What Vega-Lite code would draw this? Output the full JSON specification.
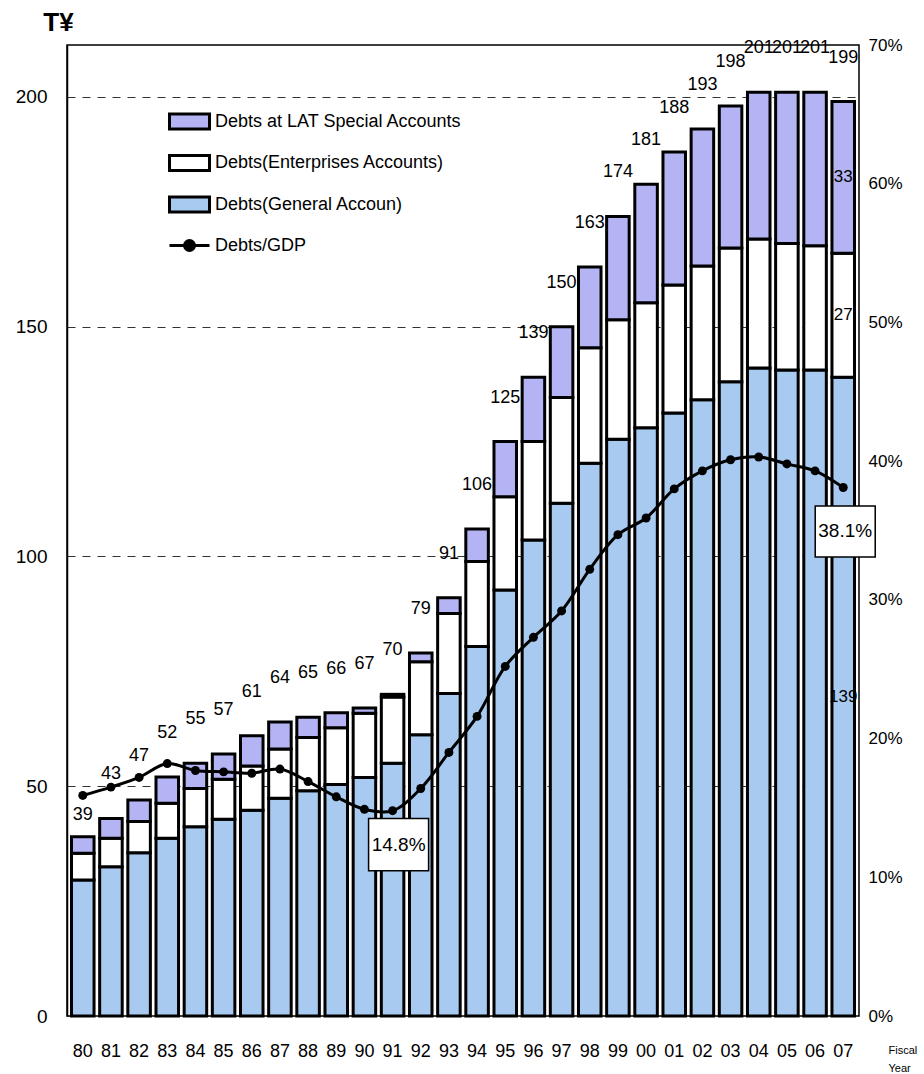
{
  "$schema": "https://vega.github.io/schema/vega-lite/v6.json",
  "width": 792,
  "height": 971,
  "autosize": {"type": "none"},
  "padding": {"left": 67, "top": 45, "right": 65, "bottom": 58},
  "config": {
    "font": "Liberation Sans, Arial, sans-serif",
    "view": {"stroke": "black", "strokeWidth": 1.5},
    "axis": {"labelColor": "black", "titleColor": "black", "domainColor": "black", "labelFont": "Liberation Sans, Arial, sans-serif", "titleFont": "Liberation Sans, Arial, sans-serif"},
    "legend": {"labelFont": "Liberation Sans, Arial, sans-serif", "labelColor": "black", "labelLimit": 0},
    "text": {"font": "Liberation Sans, Arial, sans-serif", "color": "black"}
  },
  "datasets": {
    "debt": [
      {"year": "80", "Debts(General Accoun)": 29.6, "Debts(Enterprises Accounts)": 5.8, "Debts at LAT Special Accounts": 3.6, "total": 39, "gdp": 0.159},
      {"year": "81", "Debts(General Accoun)": 32.5, "Debts(Enterprises Accounts)": 6.2, "Debts at LAT Special Accounts": 4.3, "total": 43, "gdp": 0.165},
      {"year": "82", "Debts(General Accoun)": 35.5, "Debts(Enterprises Accounts)": 6.8, "Debts at LAT Special Accounts": 4.7, "total": 47, "gdp": 0.172},
      {"year": "83", "Debts(General Accoun)": 38.7, "Debts(Enterprises Accounts)": 7.6, "Debts at LAT Special Accounts": 5.7, "total": 52, "gdp": 0.182},
      {"year": "84", "Debts(General Accoun)": 41.2, "Debts(Enterprises Accounts)": 8.3, "Debts at LAT Special Accounts": 5.5, "total": 55, "gdp": 0.177},
      {"year": "85", "Debts(General Accoun)": 42.8, "Debts(Enterprises Accounts)": 8.7, "Debts at LAT Special Accounts": 5.5, "total": 57, "gdp": 0.176},
      {"year": "86", "Debts(General Accoun)": 44.8, "Debts(Enterprises Accounts)": 9.6, "Debts at LAT Special Accounts": 6.6, "total": 61, "gdp": 0.175},
      {"year": "87", "Debts(General Accoun)": 47.4, "Debts(Enterprises Accounts)": 10.7, "Debts at LAT Special Accounts": 5.9, "total": 64, "gdp": 0.178},
      {"year": "88", "Debts(General Accoun)": 49.0, "Debts(Enterprises Accounts)": 11.6, "Debts at LAT Special Accounts": 4.4, "total": 65, "gdp": 0.169},
      {"year": "89", "Debts(General Accoun)": 50.4, "Debts(Enterprises Accounts)": 12.3, "Debts at LAT Special Accounts": 3.3, "total": 66, "gdp": 0.158},
      {"year": "90", "Debts(General Accoun)": 51.9, "Debts(Enterprises Accounts)": 14.0, "Debts at LAT Special Accounts": 1.1, "total": 67, "gdp": 0.149},
      {"year": "91", "Debts(General Accoun)": 55.0, "Debts(Enterprises Accounts)": 14.4, "Debts at LAT Special Accounts": 0.6, "total": 70, "gdp": 0.148},
      {"year": "92", "Debts(General Accoun)": 61.2, "Debts(Enterprises Accounts)": 15.9, "Debts at LAT Special Accounts": 1.9, "total": 79, "gdp": 0.164},
      {"year": "93", "Debts(General Accoun)": 70.2, "Debts(Enterprises Accounts)": 17.4, "Debts at LAT Special Accounts": 3.4, "total": 91, "gdp": 0.190},
      {"year": "94", "Debts(General Accoun)": 80.4, "Debts(Enterprises Accounts)": 18.5, "Debts at LAT Special Accounts": 7.1, "total": 106, "gdp": 0.216},
      {"year": "95", "Debts(General Accoun)": 92.7, "Debts(Enterprises Accounts)": 20.3, "Debts at LAT Special Accounts": 12.0, "total": 125, "gdp": 0.252},
      {"year": "96", "Debts(General Accoun)": 103.6, "Debts(Enterprises Accounts)": 21.4, "Debts at LAT Special Accounts": 14.0, "total": 139, "gdp": 0.273},
      {"year": "97", "Debts(General Accoun)": 111.6, "Debts(Enterprises Accounts)": 23.0, "Debts at LAT Special Accounts": 15.4, "total": 150, "gdp": 0.292},
      {"year": "98", "Debts(General Accoun)": 120.3, "Debts(Enterprises Accounts)": 25.1, "Debts at LAT Special Accounts": 17.6, "total": 163, "gdp": 0.322},
      {"year": "99", "Debts(General Accoun)": 125.5, "Debts(Enterprises Accounts)": 26.0, "Debts at LAT Special Accounts": 22.5, "total": 174, "gdp": 0.347},
      {"year": "00", "Debts(General Accoun)": 128.0, "Debts(Enterprises Accounts)": 27.2, "Debts at LAT Special Accounts": 25.8, "total": 181, "gdp": 0.359},
      {"year": "01", "Debts(General Accoun)": 131.2, "Debts(Enterprises Accounts)": 27.9, "Debts at LAT Special Accounts": 28.9, "total": 188, "gdp": 0.380},
      {"year": "02", "Debts(General Accoun)": 134.1, "Debts(Enterprises Accounts)": 29.1, "Debts at LAT Special Accounts": 29.8, "total": 193, "gdp": 0.393},
      {"year": "03", "Debts(General Accoun)": 138.0, "Debts(Enterprises Accounts)": 29.1, "Debts at LAT Special Accounts": 30.9, "total": 198, "gdp": 0.401},
      {"year": "04", "Debts(General Accoun)": 141.0, "Debts(Enterprises Accounts)": 28.1, "Debts at LAT Special Accounts": 31.9, "total": 201, "gdp": 0.403},
      {"year": "05", "Debts(General Accoun)": 140.6, "Debts(Enterprises Accounts)": 27.5, "Debts at LAT Special Accounts": 32.9, "total": 201, "gdp": 0.398},
      {"year": "06", "Debts(General Accoun)": 140.6, "Debts(Enterprises Accounts)": 27.0, "Debts at LAT Special Accounts": 33.4, "total": 201, "gdp": 0.393},
      {"year": "07", "Debts(General Accoun)": 139.0, "Debts(Enterprises Accounts)": 27.0, "Debts at LAT Special Accounts": 33.0, "total": 199, "gdp": 0.381}
    ]
  },
  "data": {"name": "debt"},
  "encoding": {
    "x": {
      "field": "year",
      "type": "ordinal",
      "sort": ["80","81","82","83","84","85","86","87","88","89","90","91","92","93","94","95","96","97","98","99","00","01","02","03","04","05","06","07"],
      "scale": {"paddingInner": 0.2, "paddingOuter": 0.16},
      "axis": {
        "labelAngle": 0, "labelFontSize": 18, "labelPadding": 26, "ticks": false, "domain": false,
        "title": ["Fiscal", "Year"], "titleFontSize": 11, "titleFontWeight": "normal",
        "titleX": 821, "titleY": 28, "titleAlign": "left", "titleBaseline": "top", "titleLineHeight": 18
      }
    }
  },
  "layer": [
    {
      "layer": [
        {
          "transform": [{"fold": ["Debts(General Accoun)", "Debts(Enterprises Accounts)", "Debts at LAT Special Accounts"], "as": ["series", "value"]}],
          "mark": {"type": "bar", "stroke": "black", "strokeWidth": 3},
          "encoding": {
            "y": {
              "field": "value", "type": "quantitative", "stack": "zero",
              "scale": {"domain": [0, 211.3], "nice": false, "zero": true},
              "axis": {
                "values": [0, 50, 100, 150, 200], "labelFontSize": 19, "labelPadding": 20, "ticks": false,
                "domainWidth": 1.5, "grid": true, "gridDash": [8, 7], "gridColor": "#333333", "gridWidth": 1,
                "title": "T¥", "titleAngle": 0, "titleFontSize": 26, "titleFontWeight": "bold",
                "titleX": -9, "titleY": -23, "titleAlign": "center", "titleBaseline": "middle"
              }
            },
            "fill": {
              "field": "series", "type": "nominal",
              "scale": {"domain": ["Debts at LAT Special Accounts", "Debts(Enterprises Accounts)", "Debts(General Accoun)"], "range": ["#b4b4f5", "#ffffff", "#a8caf0"]},
              "legend": {
                "orient": "none", "legendX": 101, "legendY": 55, "title": null,
                "symbolType": "M-1,-0.37L1,-0.37L1,0.37L-1,0.37Z", "symbolSize": 1600,
                "symbolStrokeColor": "black", "symbolStrokeWidth": 3, "symbolOpacity": 1,
                "labelFontSize": 18, "labelOffset": 4, "rowPadding": 6.5, "labelLimit": 0
              }
            },
            "order": {"field": "series", "sort": "descending"}
          }
        },
        {
          "transform": [{"filter": "datum.year != '80'"}],
          "mark": {"type": "text", "dy": -44, "fontSize": 18, "baseline": "middle", "align": "center"},
          "encoding": {
            "y": {"field": "total", "type": "quantitative"},
            "text": {"field": "total", "type": "quantitative", "format": ".0f"}
          }
        },
        {
          "transform": [{"filter": "datum.year == '80'"}],
          "mark": {"type": "text", "dy": -22, "fontSize": 18, "baseline": "middle", "align": "center"},
          "encoding": {
            "y": {"field": "total", "type": "quantitative"},
            "text": {"field": "total", "type": "quantitative", "format": ".0f"}
          }
        },
        {
          "transform": [
            {"filter": "datum.year == '07'"},
            {"fold": ["Debts(General Accoun)", "Debts(Enterprises Accounts)", "Debts at LAT Special Accounts"], "as": ["series", "value"]},
            {"stack": "value", "groupby": ["year"], "sort": [{"field": "series", "order": "descending"}], "as": ["v0", "v1"]},
            {"calculate": "(datum.v0 + datum.v1) / 2", "as": "mid"}
          ],
          "mark": {"type": "text", "fontSize": 17, "baseline": "middle", "align": "center"},
          "encoding": {
            "y": {"field": "mid", "type": "quantitative"},
            "text": {"field": "value", "type": "quantitative", "format": ".0f"}
          }
        }
      ]
    },
    {
      "layer": [
        {
          "mark": {"type": "line", "strokeWidth": 3, "interpolate": "catmull-rom"},
          "encoding": {
            "y": {
              "field": "gdp", "type": "quantitative",
              "scale": {"domain": [0, 0.7], "nice": false},
              "axis": {"orient": "right", "format": ".0%", "values": [0, 0.1, 0.2, 0.3, 0.4, 0.5, 0.6, 0.7], "labelFontSize": 17, "labelPadding": 9, "ticks": false, "domain": false, "grid": false, "title": null}
            },
            "stroke": {
              "datum": "Debts/GDP", "type": "nominal",
              "scale": {"range": ["black"]},
              "legend": {
                "orient": "none", "legendX": 101, "legendY": 179, "title": null,
                "symbolType": "M-1,0L1,0M-0.25,0A0.25,0.25,0,1,1,0.25,0A0.25,0.25,0,1,1,-0.25,0Z",
                "symbolSize": 1600, "symbolStrokeWidth": 3, "symbolFillColor": "black", "symbolStrokeColor": "black",
                "labelFontSize": 18, "labelOffset": 4, "labelLimit": 0,
                "encode": {"symbols": {"update": {"fill": {"value": "black"}, "stroke": {"value": "black"}, "opacity": {"value": 1}}}}
              }
            }
          }
        },
        {
          "mark": {"type": "point", "filled": true, "size": 80, "color": "black", "opacity": 1},
          "encoding": {"y": {"field": "gdp", "type": "quantitative"}}
        },
        {
          "transform": [{"filter": "datum.year == '91'"}],
          "mark": {"type": "point", "shape": "M-1,-0.87L1,-0.87L1,0.87L-1,0.87Z", "size": 3600, "filled": true, "fill": "white", "stroke": "black", "strokeWidth": 1.5, "opacity": 1, "xOffset": 6, "yOffset": 34},
          "encoding": {"y": {"field": "gdp", "type": "quantitative"}}
        },
        {
          "transform": [{"filter": "datum.year == '91'"}],
          "mark": {"type": "text", "fontSize": 19, "dx": 6, "dy": 34, "baseline": "middle", "align": "center"},
          "encoding": {"y": {"field": "gdp", "type": "quantitative"}, "text": {"field": "gdp", "type": "quantitative", "format": ".1%"}}
        },
        {
          "transform": [{"filter": "datum.year == '07'"}],
          "mark": {"type": "point", "shape": "M-1,-0.85L1,-0.85L1,0.85L-1,0.85Z", "size": 3600, "filled": true, "fill": "white", "stroke": "black", "strokeWidth": 1.5, "opacity": 1, "xOffset": 2, "yOffset": 44, "clip": false},
          "encoding": {"y": {"field": "gdp", "type": "quantitative"}}
        },
        {
          "transform": [{"filter": "datum.year == '07'"}],
          "mark": {"type": "text", "fontSize": 19, "dx": 2, "dy": 44, "baseline": "middle", "align": "center"},
          "encoding": {"y": {"field": "gdp", "type": "quantitative"}, "text": {"field": "gdp", "type": "quantitative", "format": ".1%"}}
        }
      ]
    }
  ],
  "resolve": {"scale": {"y": "independent"}}
}
